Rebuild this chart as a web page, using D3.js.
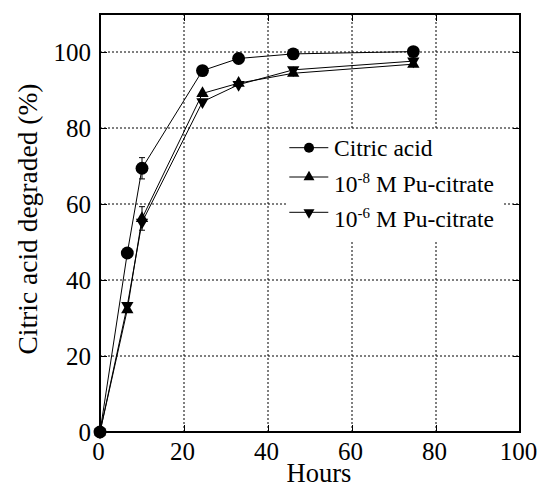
<!DOCTYPE html>
<html>
<head>
<meta charset="utf-8">
<script src="https://cdn.jsdelivr.net/npm/d3@7"></script>
<style>
  html, body { margin: 0; padding: 0; background: #fff; }
  svg text { font-family: "Liberation Serif", serif !important; }
</style>
</head>
<body style="margin:0">
<svg id="chart" width="542" height="489" font-family="Liberation Serif"></svg>
<script>
// ---- data ----
const hours        = [0, 6.5, 10, 24.4, 33, 46, 74.6];
const citricAcid   = [0, 47.1, 69.4, 95.1, 98.3, 99.5, 100.1];
const citricErr    = [0, 0, 2.8, 0, 0, 0, 0];
const puCitrate8   = [0, 32.2, 56.2, 89.1, 91.8, 94.4, 96.8];
const pu8Err       = [0, 0, 3.1, 0, 0, 0, 0];
const puCitrate6   = [0, 33.3, 55.2, 86.9, 91.4, 95.3, 97.6];
const pu6Err       = [0, 0, 0, 0, 0, 0, 0];
const xTicks       = [0, 20, 40, 60, 80, 100];
const yTicks       = [0, 20, 40, 60, 80, 100];
const xLabel       = "Hours";
const yLabel       = "Citric acid degraded (%)";

const series = [
  { name: "Citric acid", exp: null, values: citricAcid, err: citricErr, symbol: "circle" },
  { name: "M Pu-citrate", exp: "-8", values: puCitrate8, err: pu8Err, symbol: "up" },
  { name: "M Pu-citrate", exp: "-6", values: puCitrate6, err: pu6Err, symbol: "down" }
];

const FONT = "Liberation Serif";

// ---- layout ----
const margin = { left: 100, top: 14 };
const W = 420, H = 418;
const svg = d3.select("#chart");
const g = svg.append("g").attr("transform", `translate(${margin.left},${margin.top})`);

const x = d3.scaleLinear().domain([0, 100]).range([0, W]);
const y = d3.scaleLinear().domain([0, 110]).range([H, 0]);

// ---- grid ----
const grid = g.append("g").attr("stroke", "#000").attr("stroke-width", 1)
  .attr("stroke-dasharray", "2,2").attr("fill", "none");
grid.selectAll("line.gx").data(xTicks.filter(d => d > 0 && d < 100)).join("line")
  .attr("x1", d => x(d)).attr("x2", d => x(d)).attr("y1", 0).attr("y2", H);
grid.selectAll("line.gy").data(yTicks.filter(d => d > 0)).join("line")
  .attr("y1", d => y(d)).attr("y2", d => y(d)).attr("x1", 0).attr("x2", W);

// legend background (covers grid)
g.append("rect").attr("x", 187).attr("y", 116).attr("width", 216).attr("height", 110)
  .attr("fill", "#fff");

// ---- lines ----
const line = d3.line().x((d, i) => x(hours[i])).y(d => y(d));
series.forEach(s => {
  g.append("path").datum(s.values).attr("d", line)
    .attr("fill", "none").attr("stroke", "#000").attr("stroke-width", 1);
});

// ---- error bars ----
series.forEach(s => {
  const eb = g.append("g").attr("stroke", "#000").attr("stroke-width", 1);
  s.values.forEach((v, i) => {
    const e = s.err[i];
    if (!e) return;
    const cx = x(hours[i]);
    eb.append("line").attr("x1", cx).attr("x2", cx).attr("y1", y(v - e)).attr("y2", y(v + e));
    eb.append("line").attr("x1", cx - 3).attr("x2", cx + 3).attr("y1", y(v + e)).attr("y2", y(v + e));
    eb.append("line").attr("x1", cx - 3).attr("x2", cx + 3).attr("y1", y(v - e)).attr("y2", y(v - e));
  });
});

// ---- markers ----
function symPath(kind, big) {
  if (kind === "circle") return d3.symbol(d3.symbolCircle, big ? 130 : 80)();
  return d3.symbol(d3.symbolTriangle, big ? 66 : 52)();
}
series.forEach(s => {
  g.append("g").selectAll("path").data(s.values).join("path")
    .attr("d", symPath(s.symbol, true))
    .attr("transform", (d, i) => `translate(${x(hours[i])},${y(d)})` + (s.symbol === "down" ? " rotate(180)" : ""))
    .attr("fill", "#000");
});

// ---- axes ----
const fontTick = 25;
const axB = g.append("g").attr("transform", `translate(0,${H})`);
axB.call(d3.axisBottom(x).tickValues(d3.range(0, 101, 5)).tickSize(-4).tickFormat(""));
axB.call(d3.axisBottom(x).tickValues(xTicks).tickSize(-7).tickPadding(10).tickFormat(d3.format("d")));
axB.selectAll(".tick text").attr("dx", -2);
const axT = g.append("g");
axT.call(d3.axisTop(x).tickValues(d3.range(0, 101, 5)).tickSize(-4).tickFormat(""));
axT.call(d3.axisTop(x).tickValues(xTicks).tickSize(-7).tickFormat(""));
const axL = g.append("g");
axL.call(d3.axisLeft(y).tickValues(d3.range(0, 111, 5)).tickSize(-4).tickFormat(""));
axL.call(d3.axisLeft(y).tickValues(yTicks).tickSize(-7).tickPadding(9).tickFormat(d3.format("d")));
const axR = g.append("g").attr("transform", `translate(${W},0)`);
axR.call(d3.axisRight(y).tickValues(d3.range(0, 111, 5)).tickSize(-4).tickFormat(""));
axR.call(d3.axisRight(y).tickValues(yTicks).tickSize(-7).tickFormat(""));

[axB, axT, axL, axR].forEach(a => {
  a.attr("font-family", FONT).attr("font-size", fontTick);
  a.selectAll(".domain").remove();
  a.selectAll(".tick line").attr("stroke", "#000").attr("stroke-width", 1);
  a.selectAll("text").attr("font-family", FONT).attr("font-size", fontTick).attr("fill", "#000");
});

// frame
g.append("rect").attr("x", 0).attr("y", 0).attr("width", W).attr("height", H)
  .attr("fill", "none").attr("stroke", "#000").attr("stroke-width", 2);

// ---- axis titles ----
svg.append("text").attr("x", 319).attr("y", 482)
  .attr("text-anchor", "middle").attr("font-family", FONT).attr("font-size", 26.5).text(xLabel);
svg.append("text").attr("transform", `translate(37,219) rotate(-90)`)
  .attr("text-anchor", "middle").attr("font-family", FONT).attr("font-size", 27.5).text(yLabel);

// ---- legend ----
const rows = [
  { lineY: 147.7 - margin.top, textY: 155.7 - margin.top },
  { lineY: 177 - margin.top, textY: 191.7 - margin.top },
  { lineY: 212.3 - margin.top, textY: 226.7 - margin.top }
];
series.forEach((s, i) => {
  const r = rows[i];
  const lx0 = 289.3 - margin.left, lx1 = 328.3 - margin.left, mx = 309 - margin.left;
  g.append("line").attr("x1", lx0).attr("x2", lx1).attr("y1", r.lineY).attr("y2", r.lineY)
    .attr("stroke", "#000").attr("stroke-width", 1);
  g.append("path").attr("d", symPath(s.symbol, false))
    .attr("transform", `translate(${mx},${r.lineY})` + (s.symbol === "down" ? " rotate(180)" : ""))
    .attr("fill", "#000");
  const t = g.append("text").attr("x", 334 - margin.left).attr("y", r.textY)
    .attr("font-family", FONT).attr("font-size", 23.5);
  if (s.exp) {
    t.append("tspan").text("10");
    t.append("tspan").attr("dy", -9).attr("font-size", 15).text(s.exp);
    t.append("tspan").attr("dy", 9).text("\u00a0" + s.name);
  } else {
    t.text(s.name);
  }
});
</script>
</body>
</html>
